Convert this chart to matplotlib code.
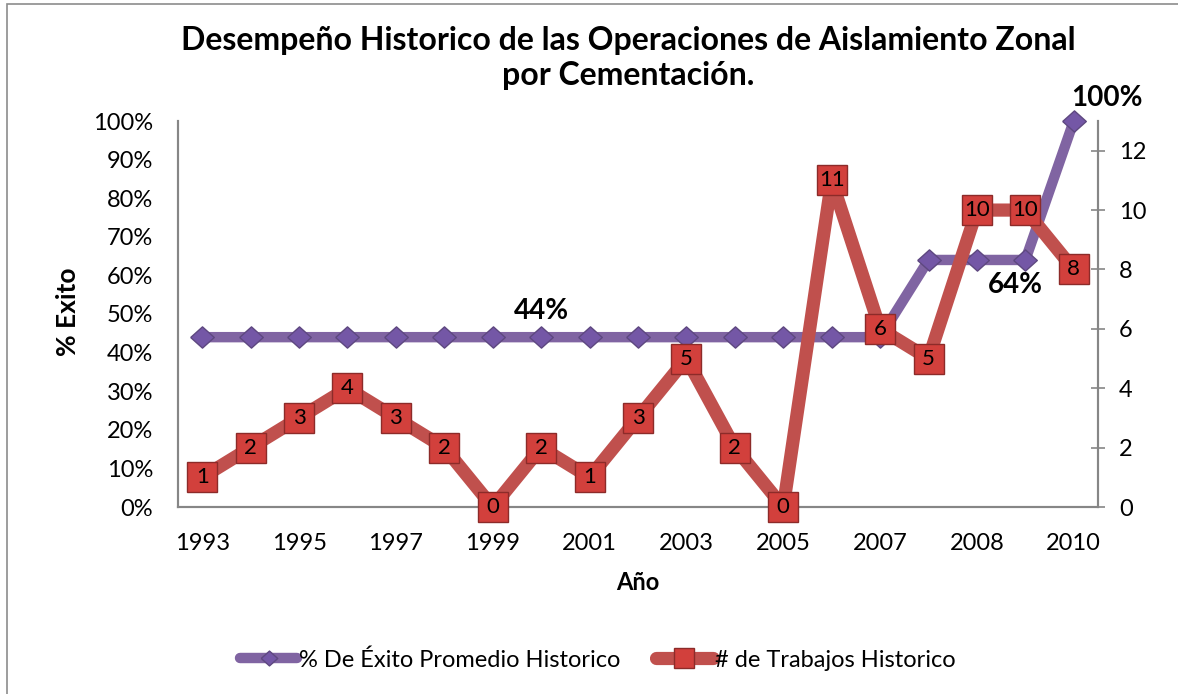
#!/usr/bin/env python3
"""Historic performance of zonal isolation cementing jobs."""

import matplotlib
matplotlib.use('Agg')
import matplotlib.pyplot as plt
from matplotlib.patches import Rectangle
from matplotlib.ticker import FuncFormatter

# Data
years = ['1993', '1994', '1995', '1996', '1997', '1998', '1999', '2000',
         '2001', '2002', '2003', '2004', '2005', '2006', '2007', '2007',
         '2008', '2009', '2010']
exito_pct = [0.44] * 15 + [0.64, 0.64, 0.64, 1.00]
trabajos = [1, 2, 3, 4, 3, 2, 0, 2, 1, 3, 5, 2, 0, 11, 6, 5, 10, 10, 8]

PURPLE = '#8064A2'
PURPLE_DARK = '#5E4880'
RED = '#C0504D'
RED_FACE = '#D2403C'
RED_DARK = '#8C2B29'
AXIS_GRAY = '#868686'

plt.rcParams['font.family'] = ['Lato', 'DejaVu Sans']

W, H = 1178, 694
fig = plt.figure(figsize=(W / 100, H / 100), dpi=100)
ax = fig.add_axes([178 / W, 1 - 507 / H, 920 / W, 386 / H])
ax2 = ax.twinx()

x = list(range(len(years)))
diamond = [(-1, 0), (0, 0.9), (1, 0), (0, -0.9), (-1, 0)]

ax.plot(x, exito_pct, color=PURPLE, linewidth=7.5, marker=diamond,
        markersize=17, markerfacecolor='#7457A6', markeredgecolor=PURPLE_DARK,
        markeredgewidth=1, solid_capstyle='round', zorder=3,
        label='% De Éxito Promedio Historico')
ax2.plot(x, trabajos, color=RED, linewidth=9.5, marker='s', markersize=21,
         markerfacecolor=RED_FACE, markeredgecolor=RED_DARK, markeredgewidth=1,
         solid_capstyle='round', zorder=4, label='# de Trabajos Historico')

# Numbers inside the red squares
for xi, v in zip(x, trabajos):
    ax2.text(xi, v, str(v), ha='center', va='center', fontsize=16, zorder=5)

# Bold labels on the success line
ax.text(7, 0.44 + 0.035, '44%', ha='center', va='bottom', fontsize=20, fontweight='bold')
ax.text(16.8, 0.64 - 0.03, '64%', ha='center', va='top', fontsize=20, fontweight='bold')
ax.text(17.95, 1.0 + 0.025, '100%', ha='left', va='bottom', fontsize=20, fontweight='bold')

ax.set_xlim(-0.5, len(years) - 0.5)
ax.set_ylim(0, 1.0)
ax2.set_ylim(0, 13)

ax.set_yticks([i / 10 for i in range(11)])
ax.yaxis.set_major_formatter(FuncFormatter(lambda v, p: f'{v * 100:.0f}%'))
ax2.set_yticks(range(0, 13, 2))

ax.set_xticks(x[::2])
ax.set_xticklabels(years[::2])
ax.tick_params(axis='x', length=0, labelsize=17, pad=19)
ax.tick_params(axis='y', length=0, labelsize=17, pad=18)
ax2.tick_params(axis='y', direction='inout', length=10, width=1.2,
                color=AXIS_GRAY, labelsize=17, pad=10)

for a in (ax, ax2):
    a.spines['top'].set_visible(False)
    for side in ('left', 'right', 'bottom'):
        a.spines[side].set_color(AXIS_GRAY)
        a.spines[side].set_linewidth(1.5)
ax2.set_zorder(ax.get_zorder() + 1)
ax2.patch.set_visible(False)
for a in (ax, ax2):
    for line in a.get_lines():
        line.set_clip_on(False)
    for t in a.texts:
        t.set_clip_on(False)

ax.set_xlabel('Año', fontsize=17, fontweight='bold', labelpad=12)
ax.set_ylabel('% Exito', fontsize=19, fontweight='bold', va='center')
ax.yaxis.set_label_coords((68 - 178) / 920, (507 - 312) / 386)

fig.text(628 / W, 1 - 50 / H,
         'Desempeño Historico de las Operaciones de Aislamiento Zonal',
         ha='center', va='baseline', fontsize=23, fontweight='bold')
fig.text(628 / W, 1 - 85 / H, 'por Cementación.',
         ha='center', va='baseline', fontsize=23, fontweight='bold')

h1, l1 = ax.get_legend_handles_labels()
h2, l2 = ax2.get_legend_handles_labels()
fig.legend(h1 + h2, l1 + l2, loc='center', bbox_to_anchor=(598 / W, 1 - 660 / H),
           ncol=2, frameon=False, fontsize=17, handlelength=2.4, columnspacing=1.5,
           handletextpad=0.1, markerscale=0.7)

# Chart area border (only top and left fall inside the picture)
fig.patches.append(Rectangle((7 / W, -0.1), 1.2, 1 - 4 / H + 0.1,
                             transform=fig.transFigure, fill=False,
                             edgecolor='#8C8C8C', linewidth=1.2))
fig.text(163 / W, 1 + 4 / H, 'g', ha='center', va='baseline', fontsize=17)

fig.savefig('out.png', dpi=100)
